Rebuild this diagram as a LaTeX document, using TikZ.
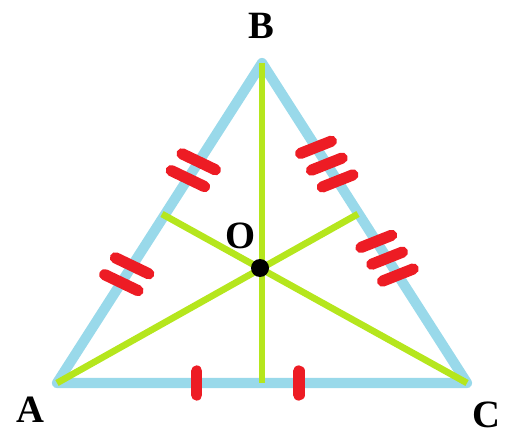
\documentclass[tikz,border=0pt]{standalone}
\usepackage{fontspec}
\setmainfont{Liberation Serif}
\usetikzlibrary{calc}
\definecolor{sideBlue}{RGB}{153,217,234}
\definecolor{medianGreen}{RGB}{181,230,29}
\definecolor{tickRed}{RGB}{237,28,36}

\begin{document}
\begin{tikzpicture}[x=0.02cm, y=-0.02cm,
    side/.style={draw=sideBlue, line width=5.8pt, line join=round},
    median/.style={draw=medianGreen, line width=3.8pt},
    tick/.style={draw=tickRed, line width=6.4pt, line cap=round},
    dot/.style={circle, fill=black, inner sep=0pt, minimum size=0.36cm},
    lbl/.style={font=\fontsize{22}{24}\selectfont\bfseries, inner sep=0pt}
  ]
  \useasboundingbox (0,0) rectangle (509,435);
  \coordinate (A) at (57,383);
  \coordinate (B) at (262,63);
  \coordinate (C) at (467,383);
  \coordinate (O) at (260,268);
  \coordinate (mAB) at (162,214);
  \coordinate (mBC) at (358,214);
  \coordinate (mAC) at (262,383);

  \draw[side] (A) -- (B) -- (C) -- cycle;
  \draw[median] (A) -- (mBC);
  \draw[median] (C) -- (mAB);
  \draw[median] (B) -- (mAC);

  \foreach \p in {0.34,0.665}
    \foreach \d in {-0.2cm,0.2cm} {
      \coordinate (t) at ($(A)!\p!(B)!\d!(B)$);
      \draw[tick] ($(t)!0.37cm!-83:(B)$) -- ($(t)!0.37cm!97:(B)$);
    }
  \foreach \p in {0.316,0.61}
    \foreach \d in {-0.4cm,0cm,0.4cm} {
      \coordinate (t) at ($(B)!\p!(C)!\d!(C)$);
      \draw[tick] ($(t)!0.33cm!79:(C)$) -- ($(t)!0.33cm!-101:(C)$);
    }
  \foreach \p in {0.341,0.59} {
    \coordinate (t) at ($(A)!\p!(C)$);
    \draw[tick] ($(t)+(0,-12)$) -- ($(t)+(0,12)$);
  }

  \node[dot] (Odot) at (O) {};
  \node[lbl] (labA) at (30,410) {A};
  \node[lbl] (labB) at (261,26) {B};
  \node[lbl] (labC) at (486,415) {C};
  \node[lbl] (labO) at (241,236) {O};
\end{tikzpicture}
\end{document}
